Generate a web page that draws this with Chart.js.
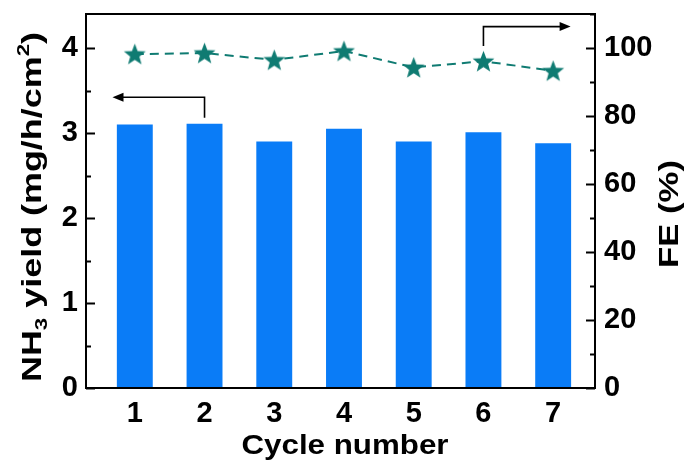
<!DOCTYPE html>
<html>
<head>
<meta charset="utf-8">
<script src="https://cdn.jsdelivr.net/npm/chart.js@4/dist/chart.umd.min.js"></script>
<style>
  html, body { margin: 0; padding: 0; background: #ffffff; }
  #wrap { width: 689px; height: 464px; position: relative; }
</style>
</head>
<body>
<div id="wrap"><canvas id="c" width="689" height="464"></canvas></div>
<script>
// Cycle test data
const cycles = [1, 2, 3, 4, 5, 6, 7];
const nh3Yield = [3.10, 3.11, 2.90, 3.05, 2.90, 3.01, 2.88];   // mg/h/cm2
const faradaicEff = [98.2, 98.5, 96.5, 99.1, 94.3, 96.1, 93.3]; // %
const yieldTicks = [0, 1, 2, 3, 4];
const feTicks = [0, 20, 40, 60, 80, 100];

const FONT = '"Liberation Sans", Arial, Helvetica, sans-serif';
const BAR_BLUE = '#0a7cf7';
const TEAL = '#0f7b72';

// filled five-point star marker
function makeStar(r, color) {
  const s = Math.ceil(r * 2 + 2);
  const cv = document.createElement('canvas');
  cv.width = s; cv.height = s;
  const g = cv.getContext('2d');
  const cx = s / 2, cy = s / 2 + r * 0.08;
  const inner = r * 0.42;
  g.beginPath();
  for (let i = 0; i < 10; i++) {
    const rad = i % 2 === 0 ? r : inner;
    const a = -Math.PI / 2 + i * Math.PI / 5;
    const px = cx + rad * Math.cos(a), py = cy + rad * Math.sin(a);
    if (i === 0) g.moveTo(px, py); else g.lineTo(px, py);
  }
  g.closePath();
  g.fillStyle = color;
  g.fill();
  return cv;
}
const starImg = makeStar(11.5, TEAL);

function arrowHead(ctx, x, y, dir) {
  // dir: -1 pointing left, +1 pointing right
  ctx.beginPath();
  ctx.moveTo(x, y);
  ctx.lineTo(x - dir * 11, y - 4.5);
  ctx.lineTo(x - dir * 11, y + 4.5);
  ctx.closePath();
  ctx.fill();
}

// rich text (subscripts/superscripts) centred at (cx, cy), rotated,
// stretched along the baseline to the given length
function drawRich(ctx, parts, cx, cy, rot, size, length) {
  ctx.save();
  ctx.translate(cx, cy);
  ctx.rotate(rot);
  ctx.fillStyle = '#000';
  ctx.textBaseline = 'alphabetic';
  ctx.textAlign = 'left';
  let total = 0;
  parts.forEach(p => {
    ctx.font = 'bold ' + (size * (p.scale || 1)) + 'px ' + FONT;
    p.w = ctx.measureText(p.t).width;
    total += p.w;
  });
  const sx = length ? length / total : 1;
  ctx.scale(sx, 1);
  let x = -total / 2;
  const base = size * 0.36;
  parts.forEach(p => {
    ctx.font = 'bold ' + (size * (p.scale || 1)) + 'px ' + FONT;
    ctx.fillText(p.t, x, base + (p.dy || 0) * size);
    x += p.w;
  });
  ctx.restore();
}

const framePlugin = {
  id: 'frame',
  afterDatasetsDraw(chart) {
    const ctx = chart.ctx;
    const a = chart.chartArea;
    const xs = chart.scales.x, yl = chart.scales.y, yr = chart.scales.y2;
    ctx.save();
    ctx.strokeStyle = '#000';
    ctx.lineWidth = 2;
    ctx.strokeRect(a.left, a.top, a.right - a.left, a.bottom - a.top);

    // inward tick marks, major and minor
    ctx.lineWidth = 1.8;
    ctx.beginPath();
    for (let v = 0; v <= 4.4001; v += 0.5) {
      const py = Math.round(yl.getPixelForValue(v)) + 0.5;
      const len = Math.abs(v - Math.round(v)) < 1e-6 ? 9 : 5;
      ctx.moveTo(a.left, py); ctx.lineTo(a.left + len, py);
    }
    for (let v = 0; v <= 110.001; v += 10) {
      const py = Math.round(yr.getPixelForValue(v)) + 0.5;
      const len = v % 20 === 0 ? 9 : 5;
      ctx.moveTo(a.right, py); ctx.lineTo(a.right - len, py);
    }
    ctx.stroke();

    // arrows pointing to the axis each series belongs to
    ctx.lineWidth = 1.6;
    ctx.fillStyle = '#000';
    const lx = xs.getPixelForValue(2);
    const ly0 = yl.getPixelForValue(3.18), ly1 = yl.getPixelForValue(3.42);
    const lTip = xs.getPixelForValue(0.68);
    ctx.beginPath();
    ctx.moveTo(lx, ly0); ctx.lineTo(lx, ly1); ctx.lineTo(lTip + 8, ly1);
    ctx.stroke();
    arrowHead(ctx, lTip, ly1, -1);

    const rx = xs.getPixelForValue(6);
    const ry0 = yr.getPixelForValue(100.6), ry1 = yr.getPixelForValue(106.3);
    const rTip = xs.getPixelForValue(7.25);
    ctx.beginPath();
    ctx.moveTo(rx, ry0); ctx.lineTo(rx, ry1); ctx.lineTo(rTip - 8, ry1);
    ctx.stroke();
    arrowHead(ctx, rTip, ry1, 1);
    ctx.restore();
  },
  afterDraw(chart) {
    const ctx = chart.ctx;
    drawRich(ctx, [
      { t: 'NH' }, { t: '3', scale: 0.62, dy: 0.2 }, { t: ' yield (mg/h/cm' },
      { t: '2', scale: 0.62, dy: -0.42 }, { t: ')' }
    ], 31, 207, -Math.PI / 2, 28, 350);
    drawRich(ctx, [{ t: 'FE (%)' }], 668, 214, -Math.PI / 2, 28, 108);
    drawRich(ctx, [{ t: 'Cycle number' }], 345, 444, 0, 28, 207);
  }
};

// scales keep exact sizes and no extra label padding
function noPad(s) { s.paddingTop = 0; s.paddingBottom = 0; s.paddingLeft = 0; s.paddingRight = 0; }

new Chart(document.getElementById('c'), {
  data: {
    datasets: [
      {
        type: 'line',
        label: 'FE',
        data: cycles.map((c, i) => ({ x: c, y: faradaicEff[i] })),
        yAxisID: 'y2',
        borderColor: TEAL,
        borderWidth: 2,
        borderDash: [9, 6],
        pointStyle: starImg,
        pointRadius: 11,
        pointHoverRadius: 11,
        fill: false,
        tension: 0,
        order: 0
      },
      {
        type: 'bar',
        label: 'NH3 yield',
        data: cycles.map((c, i) => ({ x: c, y: nh3Yield[i] })),
        yAxisID: 'y',
        backgroundColor: BAR_BLUE,
        borderWidth: 0,
        categoryPercentage: 1,
        barPercentage: 0.515,
        order: 1
      }
    ]
  },
  options: {
    responsive: false,
    animation: false,
    devicePixelRatio: 1,
    layout: { padding: { top: 14, left: 0, right: 0, bottom: 0 } },
    plugins: { legend: { display: false }, tooltip: { enabled: false } },
    scales: {
      x: {
        type: 'linear',
        min: 0.3,
        max: 7.6,
        offset: false,
        grid: { display: false, drawTicks: false, offset: false },
        border: { display: false },
        afterBuildTicks: s => { s.ticks = cycles.map(v => ({ value: v })); },
        afterFit: s => { s.height = 76; noPad(s); },
        ticks: {
          padding: 9,
          color: '#000',
          font: { family: FONT, size: 29, weight: 'bold' },
          callback: v => String(v)
        }
      },
      y: {
        position: 'left',
        min: 0,
        max: 4.4,
        grid: { display: false, drawTicks: false },
        border: { display: false },
        afterBuildTicks: s => { s.ticks = yieldTicks.map(v => ({ value: v })); },
        afterFit: s => { s.width = 86; noPad(s); },
        ticks: {
          padding: 8,
          color: '#000',
          font: { family: FONT, size: 29, weight: 'bold' }
        }
      },
      y2: {
        position: 'right',
        min: 0,
        max: 110,
        grid: { display: false, drawTicks: false },
        border: { display: false },
        afterBuildTicks: s => { s.ticks = feTicks.map(v => ({ value: v })); },
        afterFit: s => { s.width = 94; noPad(s); },
        ticks: {
          padding: 9,
          color: '#000',
          font: { family: FONT, size: 29, weight: 'bold' }
        }
      }
    }
  },
  plugins: [framePlugin]
});
</script>
</body>
</html>
